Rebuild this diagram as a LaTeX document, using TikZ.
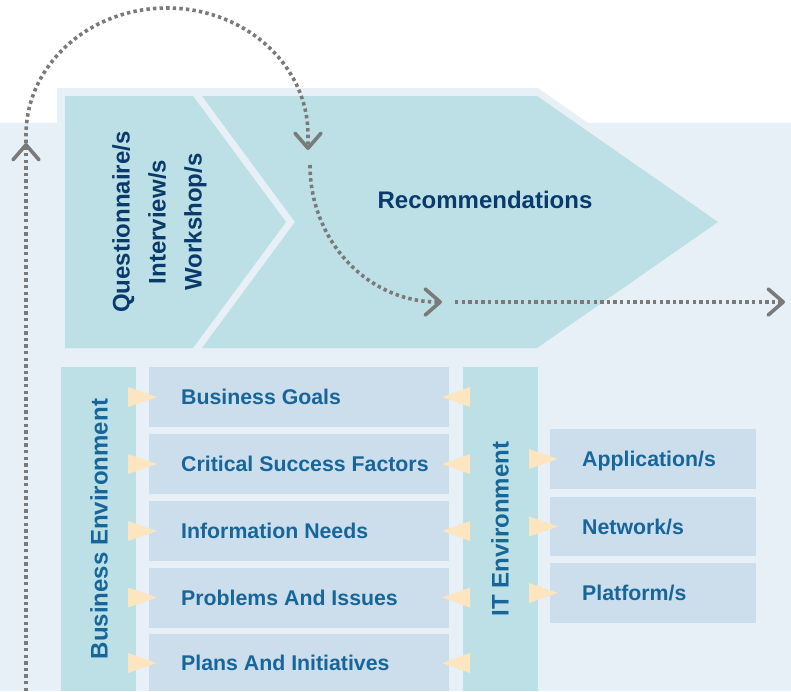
\documentclass[tikz,border=0pt]{standalone}
\usepackage{fontspec}
\setmainfont{Liberation Sans}
\usetikzlibrary{arrows.meta}
\definecolor{bgblue}{HTML}{E7EFF7}
\definecolor{tealbox}{HTML}{BCE0E5}
\definecolor{itembox}{HTML}{CCDDEC}
\definecolor{peach}{HTML}{FDE5C0}
\definecolor{itemtext}{HTML}{17669A}
\definecolor{navytext}{HTML}{0A3A6B}
\definecolor{dotgray}{HTML}{7A7A7A}
\tikzset{
	itemlabel/.style={anchor=west,inner sep=0pt,text=itemtext,text height=15.3pt,text depth=0pt,font=\fontsize{21.3}{25}\selectfont\bfseries},
	sidelabel/.style={inner sep=0pt,rotate=90,text=itemtext,font=\fontsize{24}{28}\selectfont\bfseries},
	toplabel/.style={inner sep=0pt,text=navytext,font=\fontsize{24}{36}\selectfont\bfseries},
	dotline/.style={dotgray,line width=3.6pt,dash pattern=on 3.4pt off 3.2pt},
	barb/.style={-{Straight Barb[length=15pt,width=26pt,line width=3.6pt,round]}}
}
\begin{document}
\begin{tikzpicture}[x=1pt,y=1pt]
		\useasboundingbox (0,0) rectangle (791,-691);
		\fill[white] (0,0) rectangle (791,-691);
		% background panel
		\fill[bgblue] (0,-123)--(57,-123)--(57,-88)--(538,-88)--(588,-123)--(791,-123)--(791,-691)--(0,-691)--cycle;
		% chevrons
		\fill[tealbox] (65,-96)--(193,-96)--(286,-222)--(193,-348)--(65,-348)--cycle;
		\fill[tealbox] (202,-96)--(537,-96)--(718,-222)--(537,-348)--(202,-348)--(295,-222)--cycle;
		\node[toplabel,rotate=90,align=center] (methods) at (159.5,-222) {Questionnaire/s\\Interview/s\\Workshop/s};
		\node[toplabel] (recs) at (485,-200) {Recommendations};
		% business environment
		\fill[tealbox] (61,-367) rectangle (136,-691);
		\node[sidelabel] (busenv) at (99,-529) {Business Environment};
		\fill[itembox] (149,-367) rectangle (449,-426.5);
		\fill[itembox] (149,-434) rectangle (449,-493.5);
		\fill[itembox] (149,-501) rectangle (449,-560.5);
		\fill[itembox] (149,-568) rectangle (449,-627.5);
		\fill[itembox] (149,-634) rectangle (449,-691);
		\node[itemlabel] (goals) at (181,-397) {Business Goals};
		\node[itemlabel] (csf) at (181,-464) {Critical Success Factors};
		\node[itemlabel] (needs) at (181,-531) {Information Needs};
		\node[itemlabel] (issues) at (181,-597.5) {Problems And Issues};
		\node[itemlabel] (plans) at (181,-663) {Plans And Initiatives};
		% IT environment
		\fill[tealbox] (463,-367) rectangle (538,-691);
		\node[sidelabel] (itenv) at (500,-529) {IT Environment};
		\fill[itembox] (550,-429) rectangle (756,-489);
		\fill[itembox] (550,-497) rectangle (756,-556);
		\fill[itembox] (550,-563) rectangle (756,-623);
		\node[itemlabel] (apps) at (582,-459) {Application/s};
		\node[itemlabel] (nets) at (582,-526.5) {Network/s};
		\node[itemlabel] (plats) at (582,-593) {Platform/s};
		% pointers
		\fill[peach] (128,-387)--(157,-397)--(128,-407)--cycle;
		\fill[peach] (128,-454)--(157,-464)--(128,-474)--cycle;
		\fill[peach] (128,-521)--(157,-531)--(128,-541)--cycle;
		\fill[peach] (128,-587.5)--(157,-597.5)--(128,-607.5)--cycle;
		\fill[peach] (128,-653)--(157,-663)--(128,-673)--cycle;
		\fill[peach] (470,-387)--(442,-397)--(470,-407)--cycle;
		\fill[peach] (470,-454)--(442,-464)--(470,-474)--cycle;
		\fill[peach] (470,-521)--(442,-531)--(470,-541)--cycle;
		\fill[peach] (470,-587.5)--(442,-597.5)--(470,-607.5)--cycle;
		\fill[peach] (470,-653)--(442,-663)--(470,-673)--cycle;
		\fill[peach] (529,-449)--(558,-459)--(529,-469)--cycle;
		\fill[peach] (529,-516.5)--(558,-526.5)--(529,-536.5)--cycle;
		\fill[peach] (529,-583)--(558,-593)--(529,-603)--cycle;
		% dotted feedback loop
		\coordinate (loopbase) at (26,-691);
		\coordinate (looptip) at (26,-143);
		\coordinate (recin) at (308,-150);
		\coordinate (recfrom) at (310,-165);
		\coordinate (recout) at (442,-302);
		\coordinate (outfrom) at (455,-302);
		\coordinate (outend) at (785,-302);
		\draw[dotline,barb] (loopbase)--(looptip);
		\draw[dotline,barb] (looptip)--(26,-135) arc[start angle=180,end angle=0,x radius=141,y radius=127]--(recin);
		\draw[dotline,barb] (recfrom) arc[start angle=180,end angle=270,x radius=128,y radius=137]--(recout);
		\draw[dotline,barb] (outfrom)--(outend);
	\end{tikzpicture}
\end{document}
